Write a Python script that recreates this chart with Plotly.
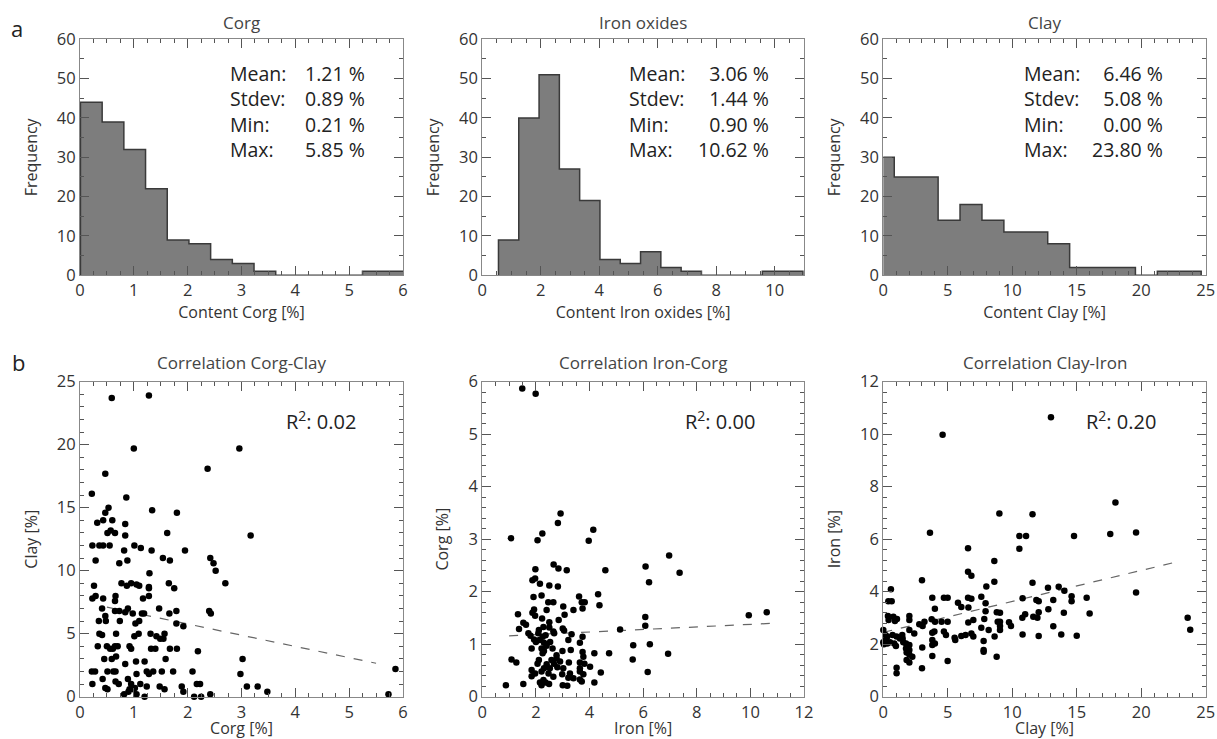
import plotly.graph_objects as go

# ---------------- DATA ----------------
# Histograms (counts per bin), bin start and width
corg_counts = [44, 39, 32, 22, 9, 8, 4, 3, 1, 0, 0, 0, 0, 1, 1]
corg_bin_start, corg_bin_width = 0.0086, 0.403
iron_counts = [9, 40, 51, 27, 19, 4, 3, 6, 2, 1, 0, 0, 0, 1, 1]
iron_bin_start, iron_bin_width = 0.553, 0.694
clay_counts = [30, 25, 25, 14, 18, 14, 11, 11, 8, 2, 2, 2, 0, 1, 1]
clay_bin_start, clay_bin_width = -0.85, 1.70

stat_labels = ["Mean:", "Stdev:", "Min:", "Max:"]
corg_stats = ["1.21 %", "0.89 %", "0.21 %", "5.85 %"]
iron_stats = ["3.06 %", "1.44 %", "0.90 %", "10.62 %"]
clay_stats = ["6.46 %", "5.08 %", "0.00 %", "23.80 %"]

# Scatter points (x, y)
corg_clay_points = [
    (0.59,23.7),(1.28,23.9),(1.00,19.7),(2.96,19.7),(0.47,17.7),(2.37,18.1),(0.22,16.1),(0.86,15.8),
    (1.34,14.8),(1.80,14.6),(0.53,15.0),(0.47,14.6),(0.43,14.0),(0.60,14.0),(0.32,13.8),(0.84,13.7),
    (0.51,13.0),(0.57,13.2),(0.65,13.0),(1.62,13.0),(0.84,12.8),(3.17,12.8),(0.23,12.0),(0.36,12.0),
    (0.43,12.0),(0.55,12.0),(1.01,12.0),(1.13,11.8),(0.82,11.6),(1.33,11.6),(1.95,11.6),(0.29,10.8),
    (0.88,10.8),(0.73,10.6),(1.54,11.0),(1.67,10.8),(2.42,11.0),(2.48,10.6),(2.52,10.0),(1.29,9.8),
    (2.70,9.0),(0.26,8.8),(0.77,9.0),(0.87,8.8),(0.95,9.0),(1.05,8.9),(1.10,8.8),(1.28,8.7),
    (1.28,8.6),(1.65,9.0),(1.75,8.6),(0.23,7.8),(0.29,8.0),(0.43,7.8),(0.66,8.0),(0.65,7.6),
    (1.17,7.8),(1.28,8.0),(0.41,7.0),(0.65,6.8),(0.73,6.8),(0.84,6.7),(0.89,7.0),(0.98,6.6),
    (1.15,6.6),(1.19,6.6),(1.47,7.0),(1.66,6.6),(1.79,6.8),(2.40,6.8),(2.43,6.6),(0.47,6.4),
    (0.35,6.0),(0.48,6.0),(0.74,6.0),(1.03,5.8),(1.10,6.0),(1.79,5.8),(1.92,5.6),(0.36,5.0),
    (0.41,4.9),(0.67,5.0),(1.01,4.8),(1.09,5.0),(1.31,5.0),(1.42,4.8),(1.49,4.6),(1.57,5.0),
    (1.55,4.6),(0.33,4.0),(0.50,4.0),(0.56,3.8),(0.61,3.8),(0.65,4.0),(0.70,4.0),(0.92,4.0),
    (0.95,3.8),(1.32,3.8),(1.40,3.8),(1.67,3.8),(1.80,3.8),(2.19,3.6),(0.59,3.0),(0.45,3.0),
    (0.67,3.2),(1.04,2.8),(1.20,2.8),(1.59,3.0),(0.84,2.6),(3.02,3.0),(0.22,2.0),(0.28,2.0),
    (0.51,2.0),(0.62,2.0),(0.66,2.0),(1.05,1.8),(1.24,2.0),(1.28,1.8),(1.36,2.0),(1.52,2.0),
    (1.73,2.0),(2.09,2.0),(2.98,1.8),(5.86,2.2),(0.42,1.4),(0.66,1.2),(0.72,1.0),(0.89,1.4),
    (0.23,1.0),(0.95,1.0),(1.12,1.0),(1.24,0.8),(1.48,0.8),(2.17,1.0),(2.23,1.0),(1.89,0.8),
    (3.10,0.8),(3.30,0.8),(0.47,0.7),(0.51,0.6),(0.92,0.6),(0.99,0.6),(1.02,0.7),(1.57,0.6),
    (1.92,0.4),(3.48,0.4),(0.82,0.2),(0.90,0.4),(1.05,0.2),(1.20,0.0),(2.12,0.0),(2.25,0.0),
    (2.42,0.2),(5.73,0.2),
]
iron_corg_points = [
    (1.49,5.87),(1.99,5.77),(2.92,3.49),(2.82,3.31),(2.24,3.11),(4.14,3.18),(1.07,3.02),(2.06,2.98),
    (3.97,2.97),(6.97,2.69),(2.66,2.52),(2.84,2.44),(1.98,2.43),(3.15,2.41),(4.59,2.41),(6.09,2.48),
    (7.36,2.36),(6.22,2.18),(1.87,2.22),(1.97,2.25),(2.15,2.15),(2.50,2.12),(2.82,2.10),(4.32,1.95),
    (2.21,1.93),(1.91,1.90),(3.61,1.91),(2.46,1.80),(2.65,1.80),(3.71,1.80),(3.82,1.80),(4.37,1.74),
    (3.02,1.72),(3.40,1.65),(3.74,1.68),(2.40,1.65),(1.93,1.66),(1.33,1.57),(1.87,1.60),(1.97,1.54),
    (3.07,1.56),(6.08,1.52),(9.94,1.55),(10.61,1.61),(1.53,1.41),(1.63,1.37),(2.23,1.49),(2.50,1.42),
    (2.85,1.46),(1.37,1.29),(2.28,1.33),(2.11,1.27),(2.50,1.32),(2.65,1.24),(3.00,1.30),(3.05,1.26),
    (5.14,1.28),(6.08,1.35),(1.72,1.21),(1.80,1.16),(2.09,1.21),(2.25,1.14),(2.36,1.17),(2.68,1.21),
    (3.33,1.19),(3.74,1.14),(1.93,1.09),(2.00,1.04),(2.13,1.08),(2.30,1.03),(2.53,1.04),(3.64,1.03),
    (3.21,1.08),(5.63,0.98),(6.25,1.00),(1.84,0.92),(2.21,0.92),(2.30,0.87),(2.40,0.97),(2.62,0.92),
    (2.99,0.87),(3.30,0.89),(3.74,0.85),(4.18,0.83),(4.73,0.83),(6.93,0.82),(2.25,0.83),(2.77,0.79),
    (3.77,0.76),(1.09,0.71),(1.27,0.65),(2.11,0.70),(2.58,0.70),(2.77,0.73),(5.61,0.71),(2.06,0.63),
    (2.40,0.62),(2.67,0.63),(2.90,0.67),(3.23,0.65),(3.64,0.65),(3.81,0.63),(1.84,0.51),(2.30,0.54),
    (2.52,0.54),(2.80,0.56),(3.02,0.54),(3.64,0.54),(4.02,0.57),(1.97,0.44),(2.21,0.48),(2.47,0.44),
    (2.98,0.43),(3.27,0.44),(3.64,0.48),(3.77,0.43),(4.42,0.46),(6.17,0.47),(1.84,0.39),(2.65,0.38),
    (3.21,0.36),(3.40,0.35),(3.64,0.33),(2.28,0.32),(2.36,0.27),(2.15,0.27),(2.49,0.24),(3.00,0.22),
    (3.17,0.21),(4.18,0.27),(0.88,0.22),(1.53,0.24),(2.21,0.22),(3.71,0.29),
]
clay_iron_points = [
    (4.60,9.98),(13.0,10.65),(18.0,7.40),(9.0,6.98),(11.57,6.95),(3.62,6.25),(17.6,6.20),(19.6,6.26),
    (10.55,6.12),(11.07,6.12),(14.79,6.12),(6.57,5.66),(10.55,5.64),(8.61,5.17),(6.57,4.76),(6.83,4.61),
    (3.0,4.44),(8.61,4.38),(11.57,4.34),(7.99,4.20),(12.77,4.15),(13.6,4.19),(19.6,3.97),(14.04,4.04),
    (0.59,4.09),(0.39,3.64),(0.65,3.64),(3.8,3.77),(4.7,3.77),(4.99,3.77),(6.57,3.77),(6.83,3.73),
    (7.6,3.81),(10.8,3.75),(11.87,3.68),(12.05,3.64),(13.18,3.68),(14.6,3.83),(14.6,3.64),(15.77,3.77),
    (5.79,3.58),(6.05,3.42),(6.6,3.40),(4.0,3.35),(7.93,3.56),(8.8,3.22),(9.05,3.20),(7.93,3.26),
    (11.0,3.14),(12.05,3.22),(12.8,3.33),(14.0,3.20),(16.0,3.17),(0.36,3.07),(0.78,3.05),(1.06,2.96),
    (0.41,2.92),(0.9,2.88),(2.02,3.07),(2.02,2.92),(3.19,2.86),(3.75,2.95),(4.01,2.86),(4.52,2.86),
    (4.99,2.86),(6.59,2.83),(6.98,2.92),(7.83,2.96),(8.87,2.86),(9.05,2.86),(9.75,2.84),(10.78,3.01),
    (11.63,3.05),(11.95,3.01),(13.18,2.68),(23.6,3.01),(23.8,2.55),(0.0,2.54),(0.16,2.35),(0.31,2.29),
    (0.72,2.35),(1.03,2.29),(1.29,2.22),(1.5,2.22),(2.02,2.54),(2.4,2.41),(2.79,2.76),(3.05,2.69),
    (3.8,2.44),(3.96,2.48),(4.7,2.48),(4.86,2.35),(5.53,2.25),(6.05,2.31),(6.38,2.35),(6.83,2.41),
    (6.98,2.29),(7.6,2.63),(8.17,2.54),(9.05,2.54),(9.05,2.69),(9.9,2.69),(10.8,2.37),(12.05,2.31),
    (13.8,2.37),(15.0,2.32),(0.0,2.07),(0.2,2.16),(0.05,2.0),(0.31,2.03),(0.52,2.07),(0.85,2.03),
    (0.98,1.93),(1.55,2.07),(1.76,2.03),(2.02,1.97),(1.76,1.84),(2.02,1.78),(1.81,1.68),(2.02,1.61),
    (2.25,1.52),(1.81,1.40),(2.02,1.30),(3.02,1.87),(3.8,2.16),(3.8,1.97),(4.0,2.03),(3.8,1.55),
    (3.0,1.08),(4.99,1.36),(5.58,2.16),(7.78,2.12),(7.78,1.78),(7.78,1.71),(8.63,2.29),(8.79,1.52),
    (1.03,1.10),(1.03,0.89),(1.47,2.35),
]

# Linear fits: (intercept, slope, x_from, x_to)
corg_clay_fit = (7.55, -0.89, 0.5, 5.5)
iron_corg_fit = (1.135, 0.0243, 1.0, 10.9)
clay_iron_fit = (2.45, 0.118, 0.0, 23.0)
r2_values = ["0.02", "0.00", "0.20"]

hist_titles = ["Corg", "Iron oxides", "Clay"]
scatter_titles = ["Correlation Corg-Clay", "Correlation Iron-Corg", "Correlation Clay-Iron"]

# ---------------- STYLE ----------------
FONT = "Open Sans"
TXT = "#333333"
AX = "#888888"
W, H = 1217, 739

def px_x(p):
    return p / W

def px_y(p):
    return 1 - p / H

x_domains = [(px_x(80), px_x(403)), (px_x(482.3), px_x(804)), (px_x(883.3), px_x(1205.7))]
top_dom = (px_y(275.3), px_y(39.3))
bot_dom = (px_y(696.7), px_y(381.7))

fig = go.Figure()

def step_trace(counts, start, width, axis_id):
    edges = [start + k * width for k in range(len(counts) + 1)]
    xs = [edges[0]] + edges[:-1] + [edges[-1], edges[-1]]
    ys = [0] + counts + [counts[-1], 0]
    return go.Scatter(x=xs, y=ys, mode="lines", line=dict(shape="hv", color="#3a3a3a", width=1.5),
                      fill="tozeroy", fillcolor="#7d7d7d", xaxis="x" + axis_id, yaxis="y" + axis_id,
                      showlegend=False, hoverinfo="skip")

fig.add_trace(step_trace(corg_counts, corg_bin_start, corg_bin_width, ""))
fig.add_trace(step_trace(iron_counts, iron_bin_start, iron_bin_width, "2"))
fig.add_trace(step_trace(clay_counts, clay_bin_start, clay_bin_width, "3"))

for pts, fit, aid in [(corg_clay_points, corg_clay_fit, "4"), (iron_corg_points, iron_corg_fit, "5"),
                      (clay_iron_points, clay_iron_fit, "6")]:
    xs = [p[0] for p in pts]
    ys = [p[1] for p in pts]
    b0, b1, xa, xb = fit
    fig.add_trace(go.Scatter(x=[xa, xb], y=[b0 + b1 * xa, b0 + b1 * xb], mode="lines",
                             line=dict(color="#666666", width=1.2, dash="dash"),
                             xaxis="x" + aid, yaxis="y" + aid, showlegend=False, hoverinfo="skip"))
    fig.add_trace(go.Scatter(x=xs, y=ys, mode="markers", marker=dict(color="black", size=6.5),
                             cliponaxis=False, xaxis="x" + aid, yaxis="y" + aid, showlegend=False))

def axis(domain, rng, dtick, minor, title, anchor, title_standoff=None):
    d = dict(domain=list(domain), range=rng, dtick=dtick, tick0=0, ticks="inside", ticklen=9,
             tickwidth=1, tickcolor="#555555", showline=True, linecolor=AX, linewidth=1.2,
             mirror="allticks", showgrid=False, zeroline=False, anchor=anchor, automargin=False,
             tickfont=dict(family=FONT, size=16.5, color=TXT),
             minor=dict(dtick=minor, ticks="inside", ticklen=4, tickcolor="#555555", showgrid=False),
             title=dict(text=title, font=dict(family=FONT, size=16, color=TXT)))
    if title_standoff is not None:
        d["title"]["standoff"] = title_standoff
    return d

lay = {}
hx = [([0, 6], 1, 0.25, "Content Corg [%]"), ([0, 11], 2, 0.5, "Content Iron oxides [%]"),
      ([0, 25], 5, 1, "Content Clay [%]")]
sx = [([0, 6], 1, 0.25, "Corg [%]"), ([0, 12], 2, 0.5, "Iron [%]"), ([0, 25], 5, 1, "Clay [%]")]
sy = [([0, 25], 5, 1, "Clay [%]"), ([0, 6], 1, 0.2, "Corg [%]"), ([0, 12], 2, 0.4, "Iron [%]")]
for i in range(3):
    n = "" if i == 0 else str(i + 1)
    lay["xaxis" + n] = axis(x_domains[i], hx[i][0], hx[i][1], hx[i][2], hx[i][3], "y" + n, 1)
    lay["yaxis" + n] = axis(top_dom, [0, 60], 10, 5, "Frequency", "x" + n)
    m = str(i + 4)
    lay["xaxis" + m] = axis(x_domains[i], sx[i][0], sx[i][1], sx[i][2], sx[i][3], "y" + m, 1)
    lay["yaxis" + m] = axis(bot_dom, sy[i][0], sy[i][1], sy[i][2], sy[i][3], "x" + m)

annotations = []
# panel titles
for i in range(3):
    cx = (x_domains[i][0] + x_domains[i][1]) / 2
    annotations.append(dict(text=hist_titles[i], x=cx, y=px_y(23), xref="paper", yref="paper",
                            xanchor="center", yanchor="middle", showarrow=False,
                            font=dict(family=FONT, size=17, color="#444444")))
    annotations.append(dict(text=scatter_titles[i], x=cx, y=px_y(362), xref="paper", yref="paper",
                            xanchor="center", yanchor="middle", showarrow=False,
                            font=dict(family=FONT, size=17, color="#444444")))
annotations.append(dict(text="a", x=px_x(17), y=px_y(28), xref="paper", yref="paper", showarrow=False,
                        xanchor="center", yanchor="middle", font=dict(family=FONT, size=22, color="#222222")))
annotations.append(dict(text="b", x=px_x(18), y=px_y(362), xref="paper", yref="paper", showarrow=False,
                        xanchor="center", yanchor="middle", font=dict(family=FONT, size=22, color="#222222")))

# stats blocks: one left-aligned label column and one right-aligned value column
stat_pos = [(0.458, 0.889), (0.451, 0.896), (0.430, 0.874)]
stat_mid_y = 0.692
for i, vals in enumerate([corg_stats, iron_stats, clay_stats]):
    n = "" if i == 0 else str(i + 1)
    annotations.append(dict(text="<br>".join(stat_labels), x=stat_pos[i][0], y=stat_mid_y,
                            xref="x" + n + " domain", yref="y" + n + " domain", xanchor="left",
                            yanchor="middle", align="left", showarrow=False,
                            font=dict(family=FONT, size=19.5, color="#222222")))
    annotations.append(dict(text="<br>".join(vals), x=stat_pos[i][1], y=stat_mid_y,
                            xref="x" + n + " domain", yref="y" + n + " domain", xanchor="right",
                            yanchor="middle", align="right", showarrow=False,
                            font=dict(family=FONT, size=19.5, color="#222222")))

r2_x = [0.632, 0.624, 0.623]
for i in range(3):
    m = str(i + 4)
    annotations.append(dict(text="R<sup>2</sup>: " + r2_values[i], x=r2_x[i], y=0.878,
                            xref="x" + m + " domain", yref="y" + m + " domain", xanchor="left",
                            yanchor="middle", showarrow=False, font=dict(family=FONT, size=20, color="#222222")))

fig.update_layout(width=W, height=H, autosize=False, margin=dict(l=0, r=0, t=0, b=0),
                  plot_bgcolor="white", paper_bgcolor="white", annotations=annotations, **lay)

fig.write_html("out.html")
